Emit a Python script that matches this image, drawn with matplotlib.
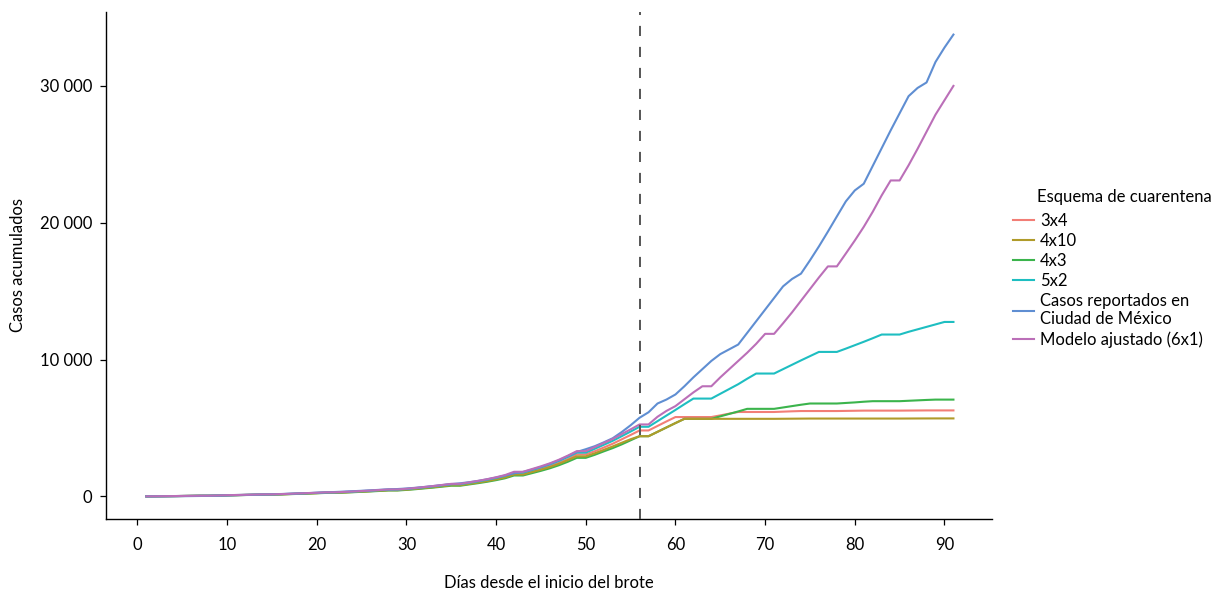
import numpy as np
import matplotlib
matplotlib.use("Agg")
import matplotlib.pyplot as plt
from matplotlib.ticker import FuncFormatter

plt.rcParams['font.family'] = ['Lato', 'DejaVu Sans']

# ---------------- data ----------------
legend_title = "Esquema de cuarentena"
labels = ["3x4", "4x10", "4x3", "5x2",
          "Casos reportados en\nCiudad de México", "Modelo ajustado (6x1)"]
colors = ["#F27E76", "#B09B2A", "#3BB44C", "#1EBEC1", "#5F8ED2", "#BB6FB8"]

s_3x4 = [5, 9, 16, 24, 32, 41, 50, 50, 64, 82, 96, 110, 124, 137, 137, 156, 179, 202, 224, 247, 275,
         275, 302, 330, 362, 394, 431, 467, 467, 513, 568, 632, 696, 770, 843, 843, 944, 1044, 1154, 1283,
         1429, 1649, 1649, 1832, 2015, 2217, 2455, 2730, 3070, 3070, 3300, 3570, 3850, 4170, 4490, 4820, 4820,
         5150, 5480, 5800, 5800, 5800, 5800, 5800,
         5920, 6050, 6170, 6170, 6170, 6170, 6170,
         6195, 6220, 6240, 6240, 6240, 6240, 6240,
         6250, 6260, 6270, 6270, 6270, 6270, 6270,
         6275, 6280, 6285, 6285, 6285, 6285]

s_4x10 = [4, 9, 15, 23, 31, 40, 49, 49, 62, 80, 93, 106, 120, 133, 133, 151, 173, 195, 217, 240, 266,
          266, 293, 320, 351, 383, 418, 454, 454, 498, 551, 614, 676, 747, 818, 818, 916, 1014, 1120, 1245,
          1387, 1600, 1600, 1778, 1955, 2150, 2380, 2650, 2930, 2930, 3150, 3400, 3650, 3920, 4180, 4400, 4400,
          4720, 5040, 5360, 5670, 5670, 5670, 5670,
          5670, 5670, 5670, 5670, 5670, 5670, 5670,
          5675, 5680, 5685, 5690, 5690, 5690, 5690,
          5690, 5690, 5690, 5690, 5690, 5690, 5690,
          5693, 5696, 5698, 5700, 5700, 5700]

s_4x3 = [4, 9, 15, 22, 30, 38, 47, 47, 60, 77, 89, 102, 115, 128, 128, 145, 166, 187, 208, 230, 255,
         255, 281, 306, 336, 366, 400, 434, 434, 476, 527, 587, 646, 714, 782, 782, 876, 969, 1071, 1190,
         1326, 1530, 1530, 1700, 1870, 2057, 2278, 2533, 2820, 2820, 3040, 3290, 3530, 3800, 4100, 4400, 4400,
         4720, 5040, 5360, 5670, 5670, 5670, 5670,
         5850, 6030, 6210, 6400, 6400, 6400, 6400,
         6500, 6600, 6700, 6790, 6790, 6790, 6790,
         6830, 6870, 6920, 6960, 6960, 6960, 6960,
         6990, 7020, 7050, 7075, 7075, 7075]

s_5x2 = [5, 10, 17, 25, 34, 44, 53, 53, 68, 87, 102, 116, 131, 145, 145, 164, 189, 213, 237, 261, 290,
         290, 319, 348, 382, 416, 455, 493, 493, 542, 600, 667, 735, 812, 890, 890, 996, 1102, 1218, 1354,
         1508, 1740, 1740, 1934, 2127, 2340, 2592, 2882, 3200, 3200, 3481, 3771, 4062, 4400, 4740, 5090, 5090,
         5500, 5910, 6320, 6740, 7150, 7150, 7150,
         7500, 7850, 8200, 8600, 8980, 8980, 8980,
         9300, 9620, 9940, 10250, 10560, 10560, 10560,
         10800, 11050, 11300, 11560, 11830, 11830, 11830,
         12030, 12210, 12390, 12570, 12750, 12750]

s_reportados = [1, 3, 6, 10, 16, 24, 33,
                44, 57, 72, 88, 105, 122, 140,
                158, 176, 196, 218, 242, 268, 295,
                322, 350, 380, 412, 446, 482, 520,
                540, 580, 630, 690, 760, 830, 900,
                960, 1040, 1130, 1250, 1380, 1530, 1690,
                1790, 1960, 2150, 2380, 2640, 2950, 3250,
                3450, 3670, 3950, 4250, 4700, 5200, 5750,
                6150, 6790, 7080, 7450, 8050, 8700, 9300,
                9900, 10400, 10750, 11100, 11950, 12800, 13650,
                14500, 15350, 15890, 16280, 17250, 18270, 19350,
                20460, 21560, 22360, 22850, 24150, 25450, 26750,
                28000, 29250, 29850, 30250, 31750, 32800, 33750]

s_modelo = [5, 10, 18, 26, 35, 45, 55, 55, 70, 90, 105, 120, 135, 150, 150, 170, 195, 220, 245, 270, 300,
            300, 330, 360, 395, 430, 470, 510, 510, 560, 620, 690, 760, 840, 920, 920, 1030, 1140, 1260, 1400,
            1560, 1800, 1800, 2000, 2200, 2420, 2680, 2980, 3310, 3310, 3600, 3900, 4200, 4550, 4900, 5260, 5260,
            5820, 6250, 6600, 7100, 7600, 8050, 8050,
            8700, 9300, 9900, 10500, 11150, 11880, 11880,
            12650, 13450, 14300, 15150, 16000, 16810, 16810,
            17750, 18700, 19700, 20800, 22000, 23090, 23090,
            24200, 25400, 26650, 27900, 28950, 30000]

series = [s_3x4, s_4x10, s_4x3, s_5x2, s_reportados, s_modelo]
zorders = [2, 4, 3, 5, 6, 7]
intervention_day = 56

# ---------------- figure ----------------
fig = plt.figure(figsize=(12.3, 5.93), dpi=100)
ax = fig.add_axes([106 / 1230, 1 - 519 / 593, (992 - 106) / 1230, (519 - 12) / 593])

for lab, col, s, z in zip(labels, colors, series, zorders):
    d = np.arange(1, len(s) + 1)
    ax.plot(d, s, color=col, lw=1.5, label=lab, zorder=z, solid_joinstyle='round')

ax.axvline(intervention_day, color='#555555', lw=1.4, dashes=(5.2, 5.6), zorder=8)

ax.set_xlim(-3.5, 95.3)
ax.set_ylim(-1650, 35400)
ax.set_xticks(np.arange(0, 91, 10))
ax.set_yticks([0, 10000, 20000, 30000])
ax.yaxis.set_major_formatter(FuncFormatter(lambda v, p: f"{int(v):,}".replace(",", " ")))

for sp in ['top', 'right']:
    ax.spines[sp].set_visible(False)
for sp in ['left', 'bottom']:
    ax.spines[sp].set_linewidth(1.0)
    ax.spines[sp].set_color('black')
ax.tick_params(axis='both', direction='out', length=4, width=0.9, labelsize=12, colors='black', pad=6)
ax.tick_params(axis='x', pad=9)

ax.set_xlabel("Días desde el inicio del brote", fontsize=12, labelpad=16)
ax.set_ylabel("Casos acumulados", fontsize=12, labelpad=10)

handles, labs = ax.get_legend_handles_labels()
leg = fig.legend(handles, labs, loc='upper left',
                 bbox_to_anchor=(1006 / 1230, 1 - 206 / 593), frameon=False,
                 fontsize=12, handlelength=1.3, handletextpad=0.35,
                 labelspacing=0.24, borderaxespad=0)
fig.text(1037 / 1230, 1 - 197 / 593, legend_title, fontsize=12, ha='left', va='center')

fig.savefig("out.png", dpi=100)
